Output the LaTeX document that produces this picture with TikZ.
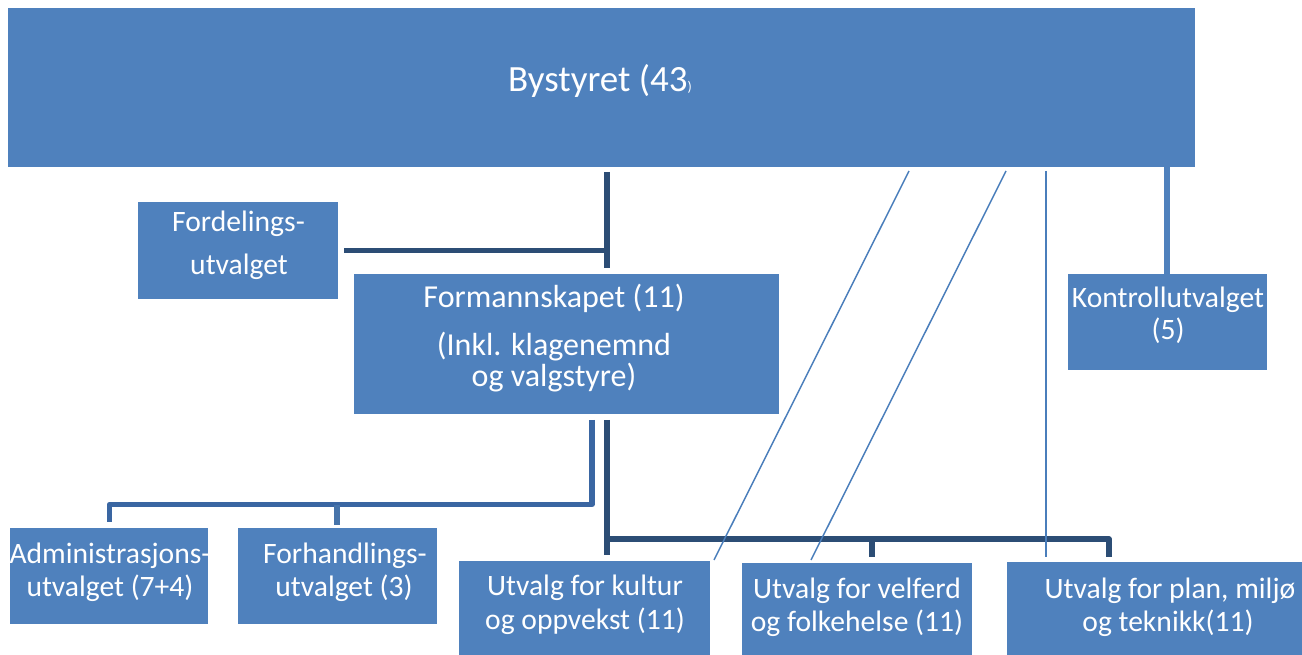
\documentclass[tikz,border=0pt]{standalone}
\usepackage{fontspec}
\setmainfont{Carlito}
\usetikzlibrary{fit}
\definecolor{boxblue}{HTML}{4F81BD}
\definecolor{darkcon}{HTML}{2C4D75}
\definecolor{midcon}{HTML}{3A66A2}
\definecolor{thincon}{HTML}{4A7EBB}
\begin{document}
\begin{tikzpicture}[x=0.75pt,y=-0.75pt,
  box/.style={fill=boxblue, draw=none, inner sep=0pt},
  txt/.style={text=white, inner sep=0pt, anchor=base, font=\fontsize{22.2pt}{26pt}\selectfont},
  bigtxt/.style={text=white, inner sep=0pt, anchor=base, font=\fontsize{24pt}{28pt}\selectfont},
  titletxt/.style={text=white, inner sep=0pt, anchor=base, font=\fontsize{27.75pt}{32pt}\selectfont},
  darkline/.style={draw=darkcon, line width=4.2pt},
  midline/.style={draw=midcon, line width=3.9pt, line join=round},
  stubline/.style={draw=boxblue!90!black, line width=3.9pt},
  kline/.style={draw=boxblue, line width=3.9pt},
  thinline/.style={draw=thincon, line width=1.1pt}]
\useasboundingbox (0,0) rectangle (1302,655);

% boxes
\node[box, fit={(8,8) (1195,167)}] (by) {};
\node[box, fit={(138,202) (338,299)}] (ford) {};
\node[box, fit={(354,274) (779,414)}] (form) {};
\node[box, fit={(1068,274) (1267,370)}] (kontroll) {};
\node[box, fit={(10,528) (208,624)}] (adm) {};
\node[box, fit={(238,528) (437,624)}] (forh) {};
\node[box, fit={(459,561) (710,655)}] (kult) {};
\node[box, fit={(742,563) (972,655)}] (velf) {};
\node[box, fit={(1007,562) (1302,655)}] (plan) {};

% texts
\node[titletxt] (byT) at (600,92) {Bystyret (43{\fontsize{10.5pt}{12pt}\selectfont )}};
\node[txt] (fordA) at (238.5,232) {Fordelings-};
\node[txt] (fordB) at (239,275) {utvalget};
\node[bigtxt] (formA) at (554,308) {Formannskapet (11)};
\node[bigtxt] (formB) at (554,356) {(Inkl. klagenemnd};
\node[bigtxt] (formC) at (554,387) {og valgstyre)};
\node[txt] (kontA) at (1168,308) {Kontrollutvalget};
\node[txt] (kontB) at (1168,340) {(5)};
\node[txt] (admA) at (110,563) {Administrasjons-};
\node[txt] (admB) at (110,596) {utvalget (7+4)};
\node[txt] (forhA) at (345,563) {Forhandlings-};
\node[txt] (forhB) at (344,596) {utvalget (3)};
\node[txt] (kultA) at (585,595) {Utvalg for kultur};
\node[txt] (kultB) at (585,629) {og oppvekst (11)};
\node[txt] (velfA) at (857,598) {Utvalg for velferd};
\node[txt] (velfB) at (857,631) {og folkehelse (11)};
\node[txt] (planA) at (1170,598) {Utvalg for plan, miljø};
\node[txt] (planB) at (1168,631) {og teknikk(11)};

% connector end points
\coordinate (byS) at (607,172);
\coordinate (formN) at (607,268);
\coordinate (fordE) at (344,250.5);
\coordinate (fordJ) at (607,250.5);
\coordinate (formSa) at (592,420);
\coordinate (admN) at (109.5,522);
\coordinate (forhJ) at (337,504.5);
\coordinate (forhN) at (337,525);
\coordinate (formSb) at (607,420);
\coordinate (kultN) at (607,555);
\coordinate (velfN) at (872,557);
\coordinate (planN) at (1109,557);
\coordinate (byK) at (1167,167);
\coordinate (kontN) at (1167,276);
\coordinate (byA) at (909,171);
\coordinate (kultE) at (714,560);
\coordinate (byB) at (1006,171);
\coordinate (velfW) at (811,560);
\coordinate (byC) at (1046,171);
\coordinate (planW) at (1046,557);

% connectors
\draw[darkline] (byS) -- (formN);
\draw[darkline] (fordE) -- (fordJ);
\draw[midline] (formSa) |- (forhJ) -| (admN);
\draw[stubline] (forhJ) -- (forhN);
\draw[darkline] (formSb) -- (kultN);
\draw[darkline, line join=round] (formSb |- 0,539) -| (planN);
\draw[darkline] (velfN |- 0,539) -- (velfN);
\draw[kline] (byK) -- (kontN);
\draw[thinline] (byA) -- (kultE);
\draw[thinline] (byB) -- (velfW);
\draw[thinline] (byC) -- (planW);
\end{tikzpicture}
\end{document}
